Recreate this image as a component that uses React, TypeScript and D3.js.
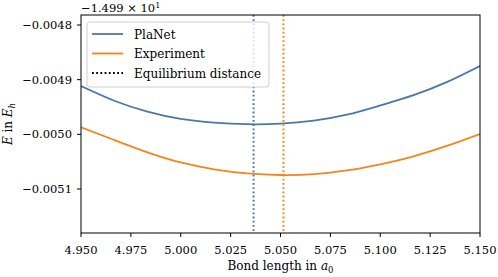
import * as d3 from "d3";

const WIDTH = 498;
const HEIGHT = 277;
const MARGIN = { top: 15, right: 18, bottom: 44, left: 81 };
const FONT = "'DejaVu Serif', serif";

// bond length in a0
const BOND = [
  4.95, 4.9667, 4.9833, 5.0, 5.0167, 5.0333, 5.05, 5.0667, 5.0833, 5.1,
  5.1167, 5.1333, 5.15,
];
// energies, shown relative to the -14.99 offset
const PLANET = [
  -0.0049116, -0.0049385, -0.0049586, -0.0049719, -0.0049787, -0.0049815,
  -0.0049804, -0.0049749, -0.0049641, -0.0049471, -0.0049282, -0.0049046,
  -0.004875,
];
const EXPERIMENT = [
  -0.0049871, -0.0050104, -0.0050329, -0.0050515, -0.005064, -0.0050716,
  -0.0050744, -0.0050729, -0.0050661, -0.0050548, -0.0050402, -0.0050213,
  -0.0049994,
];
const EQUILIBRIUM = [5.0365, 5.0515];
const X_TICKS = [4.95, 4.975, 5.0, 5.025, 5.05, 5.075, 5.1, 5.125, 5.15];
const Y_TICKS = [-0.0048, -0.0049, -0.005, -0.0051];

const BLUE = "#4c78a8";
const ORANGE = "#f58518";

export default function App() {
  const x = d3
    .scaleLinear()
    .domain([4.95, 5.15])
    .range([MARGIN.left, WIDTH - MARGIN.right]);
  const y = d3
    .scaleLinear()
    .domain([-0.0051805, -0.0047817])
    .range([HEIGHT - MARGIN.bottom, MARGIN.top]);

  const line = d3
    .line<number>()
    .x((_, i) => x(BOND[i]))
    .y((d) => y(d))
    .curve(d3.curveNatural);

  const x0 = MARGIN.left;
  const x1 = WIDTH - MARGIN.right;
  const y0 = MARGIN.top;
  const y1 = HEIGHT - MARGIN.bottom;
  const fmtX = d3.format(".3f");
  const fmtY = (v: number) => d3.format(".4f")(v).replace("-", "\u2212");

  const legend = [
    { label: "PlaNet", color: BLUE, dash: "none" },
    { label: "Experiment", color: ORANGE, dash: "none" },
    { label: "Equilibrium distance", color: "#000", dash: "1.8,2.4" },
  ];

  return (
    <svg
      width={WIDTH}
      height={HEIGHT}
      style={{ position: "absolute", left: 0, top: 0, fontFamily: FONT }}
    >
      <defs>
        <clipPath id="plot">
          <rect x={x0} y={y0} width={x1 - x0} height={y1 - y0} />
        </clipPath>
      </defs>
      <g clipPath="url(#plot)">
        <path d={line(PLANET)!} fill="none" stroke={BLUE} strokeWidth={1.8} />
        <path
          d={line(EXPERIMENT)!}
          fill="none"
          stroke={ORANGE}
          strokeWidth={1.8}
        />
        {EQUILIBRIUM.map((v, i) => (
          <line
            key={i}
            x1={x(v)}
            x2={x(v)}
            y1={y0}
            y2={y1}
            stroke={i === 0 ? BLUE : ORANGE}
            strokeWidth={2}
            strokeDasharray="1.8,2.4"
          />
        ))}
      </g>

      {/* legend */}
      <g>
        <rect
          x={87}
          y={22}
          width={182}
          height={65}
          rx={3}
          fill="#fff"
          fillOpacity={0.8}
          stroke="#d0d0d0"
        />
        {legend.map((d, i) => (
          <g key={d.label} transform={`translate(92, ${34 + i * 19.5})`}>
            <line
              x1={0}
              x2={31}
              stroke={d.color}
              strokeWidth={1.8}
              strokeDasharray={d.dash}
            />
            <text x={42} y={4.5} fontSize={12} fill="#000">
              {d.label}
            </text>
          </g>
        ))}
      </g>

      {/* frame */}
      <rect
        x={x0}
        y={y0}
        width={x1 - x0}
        height={y1 - y0}
        fill="none"
        stroke="#000"
        strokeWidth={1}
      />

      {/* x axis */}
      {X_TICKS.map((t) => (
        <g key={t} transform={`translate(${x(t)}, ${y1})`}>
          <line y2={4} stroke="#000" />
          <text y={21} textAnchor="middle" fontSize={11.5}>
            {fmtX(t)}
          </text>
        </g>
      ))}
      <text x={(x0 + x1) / 2} y={270} textAnchor="middle" fontSize={12}>
        Bond length in <tspan fontStyle="italic">a</tspan>
        <tspan fontSize={8.5} dy={3}>
          0
        </tspan>
      </text>

      {/* y axis */}
      {Y_TICKS.map((t) => (
        <g key={t} transform={`translate(${x0}, ${y(t)})`}>
          <line x2={-4} stroke="#000" />
          <text x={-9} y={4} textAnchor="end" fontSize={11.5}>
            {fmtY(t)}
          </text>
        </g>
      ))}
      <text x={x0} y={12} fontSize={11.5}>
        {"\u22121.499 \u00d7 10"}
        <tspan fontSize={8} dy={-4}>
          1
        </tspan>
      </text>
      <text
        transform={`translate(12, ${(y0 + y1) / 2}) rotate(-90)`}
        textAnchor="middle"
        fontSize={12}
      >
        <tspan fontStyle="italic">E</tspan> in{" "}
        <tspan fontStyle="italic">E</tspan>
        <tspan fontSize={8.5} fontStyle="italic" dy={3}>
          h
        </tspan>
      </text>
    </svg>
  );
}
